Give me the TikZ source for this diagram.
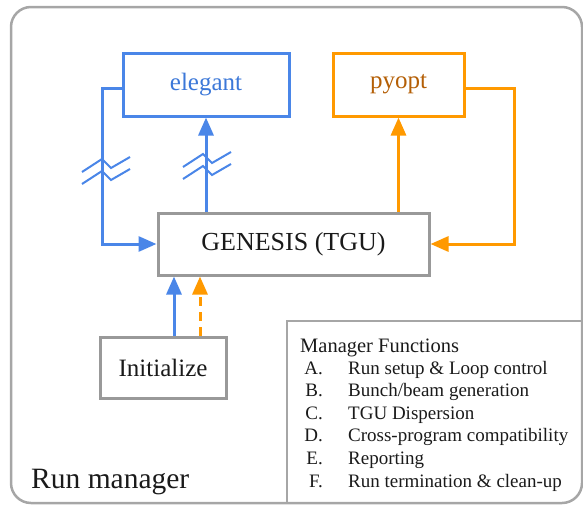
\documentclass[tikz,border=0pt]{standalone}
\usepackage{fontspec}
\setmainfont{Liberation Serif}
\usetikzlibrary{positioning,arrows.meta}
\definecolor{eblue}{HTML}{4A86E8}
\definecolor{etext}{HTML}{3C78D8}
\definecolor{porange}{HTML}{FF9900}
\definecolor{ptext}{HTML}{B45F06}
\definecolor{boxgray}{HTML}{999999}
\definecolor{framegray}{HTML}{A6A6A6}
\definecolor{ink}{HTML}{1A1A1A}

\begin{document}
\begin{tikzpicture}[x=1pt,y=-1pt,
  progbox/.style={rectangle, line width=3pt, inner sep=0pt, font=\fontsize{25}{30}\selectfont},
  grayed/.style={progbox, draw=boxgray, text=ink},
  blueline/.style={draw=eblue, line width=3pt},
  orangeline/.style={draw=porange, line width=3pt},
  tip/.style={-{Triangle[length=18pt,width=15pt]}},
]
\useasboundingbox (0,0) rectangle (583,506);

% outer frame and function list frame
\draw[framegray, line width=2.5pt, rounded corners=20pt] (11,7) rectangle (582,503);
\draw[framegray, line width=1.5pt] (287,503) -- (287,321) -- (582,321);

\node(elegant) [progbox, draw=eblue, text=etext, minimum width=166pt, minimum height=63pt] at (206,84.5){elegant};
\node(pyopt) [progbox, draw=porange, text=ptext, minimum width=131pt, minimum height=63pt] at (398.5,84.5){pyopt};
\node(genesis) [grayed, font=\fontsize{26}{30}\selectfont, minimum width=271pt, minimum height=62pt] at (293.5,244){GENESIS (TGU)};
\node(init) [grayed, minimum width=126pt, minimum height=61pt] at (163,367.5){Initialize};

\node(runman) [anchor=base west, inner sep=0pt, text=ink, font=\fontsize{29.5}{32}\selectfont] at (31,488){Run manager};

% elegant links
\draw[blueline,tip] ([yshift=-3.5pt]elegant.west) -- ++(-19,0) |- (genesis.west);
\draw[blueline,tip] (elegant.south |- genesis.north) -- (elegant.south);
\foreach \sx/\sy in {82/172, 82/184, 183/167, 183/179}
  \draw[eblue, line width=2pt] (\sx,\sy) -- ++(20,-13) -- ++(9,9) -- ++(19,-11);

% pyopt links
\draw[orangeline,tip] (pyopt.south |- genesis.north) -- (pyopt.south);
\draw[orangeline,tip] ([yshift=-3.5pt]pyopt.east) -- ++(49,0) |- (genesis.east);

% start up
\coordinate (ib) at ([xshift=11pt]init.north);
\coordinate (io) at ([xshift=37pt]init.north);
\draw[blueline,tip] (ib) -- (ib |- genesis.south);
\draw[orangeline,tip,dash pattern=on 9pt off 6pt] (io) -- (io |- genesis.south);

% function list
\node(ftitle) [anchor=base west, inner sep=0pt, text=ink, font=\fontsize{20.5}{22}\selectfont] at (300,352){Manager Functions};
\foreach \l/\t [count=\i] in {A./Run setup \& Loop control, B./{Bunch/beam generation},
    C./TGU Dispersion, D./Cross-program compatibility, E./Reporting, F./Run termination \& clean-up}{
  \node(l\i) [anchor=base east, inner sep=0pt, text=ink, font=\fontsize{19}{22}\selectfont] at (323,351.4+22.6*\i){\l};
  \node(f\i) [anchor=base west, inner sep=0pt, text=ink, font=\fontsize{19}{22}\selectfont] at (348,351.4+22.6*\i){\t};
}

\end{tikzpicture}
\end{document}
